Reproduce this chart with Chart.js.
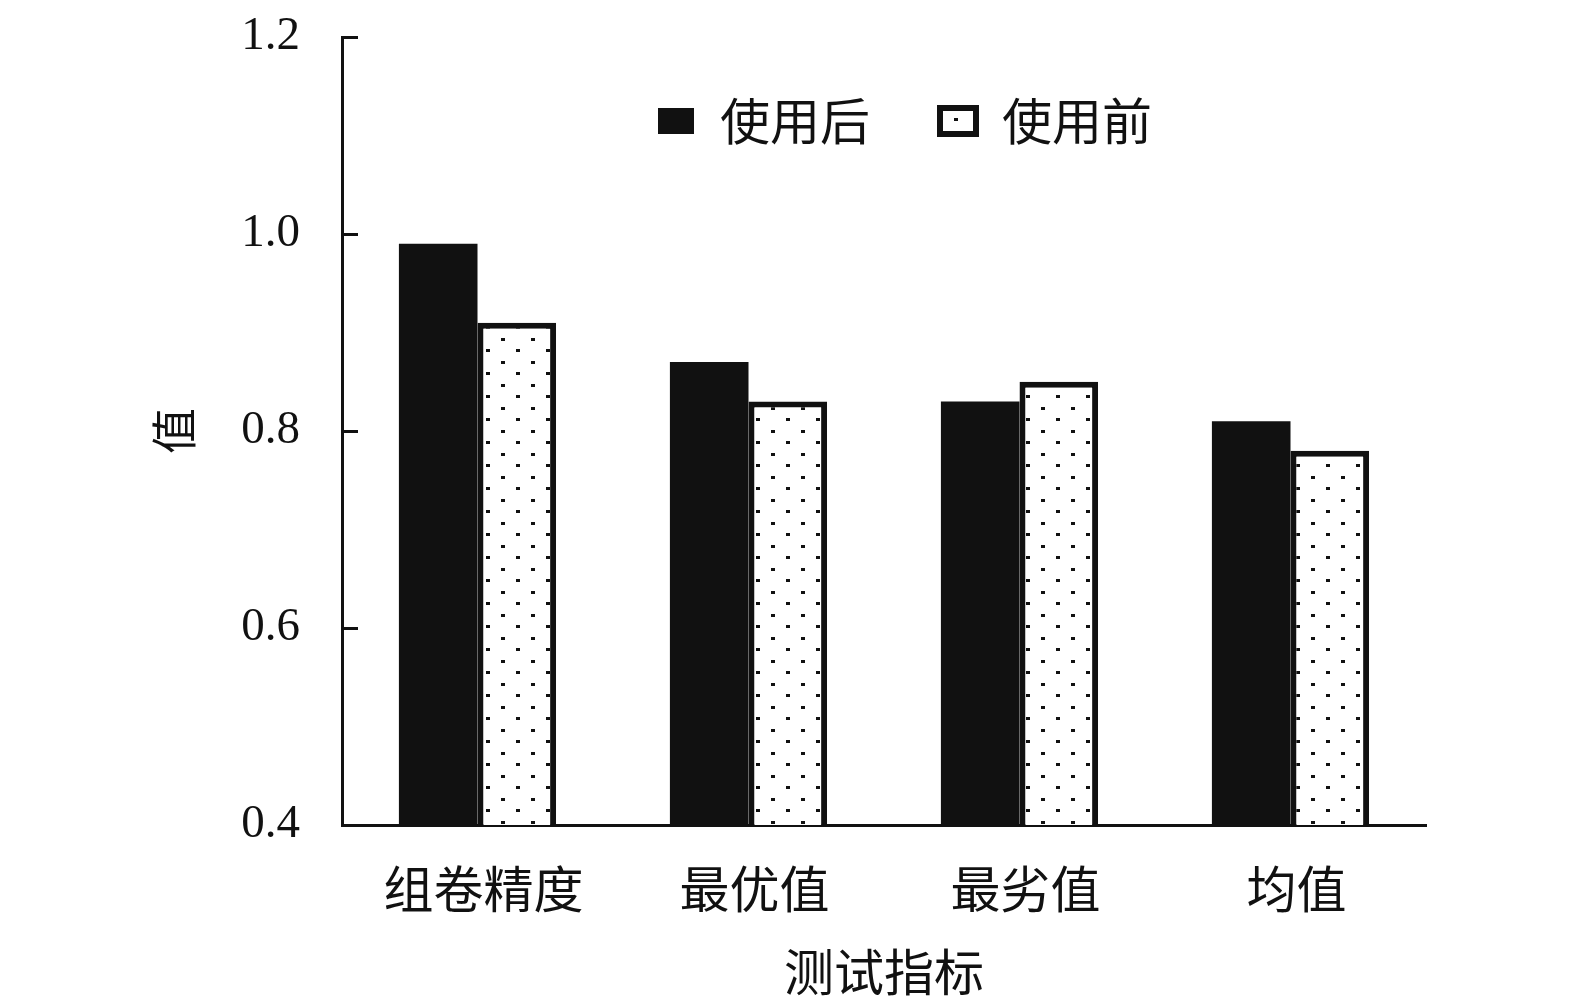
<!DOCTYPE html>
<html>
<head>
<meta charset="utf-8">
<script src="https://cdn.jsdelivr.net/npm/chart.js@4.4.1/dist/chart.umd.min.js"></script>
<style>
  body { margin: 0; background: #fff; }
  #wrap { width: 1575px; height: 1006px; }
</style>
</head>
<body>
<div id="wrap"><canvas id="myChart" width="1575" height="1006"></canvas></div>
<script>
// data
const categories = ['组卷精度', '最优值', '最劣值', '均值'];
const seriesNames = ['使用后', '使用前'];
const afterValues = [0.99, 0.87, 0.83, 0.81];
const beforeValues = [0.91, 0.83, 0.85, 0.78];
const yMin = 0.4;
const yMax = 1.2;
const yStep = 0.2;
const xTitle = '测试指标';
const yTitle = '值';

const INK = '#111';
const SERIF = '"Liberation Serif", "Times New Roman", serif';
const CJK = '"Noto Sans CJK SC", sans-serif';

// dotted fill for the "before" bars
function makeDots()
{
  const c = document.createElement('canvas');
  c.width = 30;
  c.height = 23;
  const g = c.getContext('2d');
  g.fillStyle = '#fff';
  g.fillRect(0, 0, 30, 23);
  g.fillStyle = INK;
  g.fillRect(6, 4, 4, 3);
  g.fillRect(21, 16, 4, 3);
  return g.createPattern(c, 'repeat');
}
const dots = makeDots();

// small tick marks pointing into the plot on the y axis
const innerTicks = {
  id: 'innerTicks',
  afterDatasetsDraw(chart) {
    const y = chart.scales.y;
    const left = chart.chartArea.left;
    const g = chart.ctx;
    g.save();
    g.strokeStyle = INK;
    g.lineWidth = 3;
    y.ticks.forEach(function (t) {
      const py = Math.round(y.getPixelForValue(t.value)) + 0.5;
      g.beginPath();
      g.moveTo(left, py);
      g.lineTo(left + 16, py);
      g.stroke();
    });
    g.restore();
  }
};

// legend row inside the plot, near the top
const insideLegend = {
  id: 'insideLegend',
  afterDraw(chart) {
    const g = chart.ctx;
    const area = chart.chartArea;
    const sets = chart.data.datasets;
    const boxW = 36, boxH = 26, textGap = 26, itemGap = 70;
    const cy = area.top + 84;
    g.save();
    g.font = '50px ' + CJK;
    g.textBaseline = 'middle';
    g.textAlign = 'left';
    let total = 0;
    sets.forEach(function (ds, i) {
      total += boxW + textGap + g.measureText(ds.label).width;
      if (i > 0) total += itemGap;
    });
    let x = (area.left + area.right) / 2 + 21 - total / 2;
    sets.forEach(function (ds) {
      if (ds.borderWidth) {
        g.fillStyle = '#fff';
        g.fillRect(x, cy - boxH / 2, boxW, boxH);
        g.strokeStyle = ds.borderColor;
        g.lineWidth = ds.borderWidth;
        g.strokeRect(x, cy - boxH / 2, boxW, boxH);
        g.fillStyle = INK;
        g.fillRect(x + boxW / 2 - 4, cy - 3, 4, 3);
      } else {
        g.fillStyle = ds.backgroundColor;
        g.fillRect(x, cy - boxH / 2, boxW, boxH);
      }
      x += boxW + textGap;
      g.fillStyle = INK;
      g.fillText(ds.label, x, cy);
      x += g.measureText(ds.label).width + itemGap;
    });
    g.restore();
  }
};

const ctx = document.getElementById('myChart');
const myChart = new Chart(ctx, {
  type: 'bar',
  data: {
    labels: categories,
    datasets: [{
      label: seriesNames[0],
      data: afterValues,
      backgroundColor: INK,
      borderWidth: 0
    }, {
      label: seriesNames[1],
      data: beforeValues,
      backgroundColor: dots,
      borderColor: INK,
      borderWidth: 6,
      borderSkipped: 'bottom'
    }]
  },
  options: {
    responsive: false,
    devicePixelRatio: 1,
    animation: false,
    layout: {
      padding: { left: 146, right: 149, top: 37, bottom: 0 }
    },
    datasets: {
      bar: { categoryPercentage: 0.58, barPercentage: 1.0 }
    },
    plugins: {
      tooltip: { enabled: false },
      legend: { display: false }
    },
    scales: {
      x: {
        grid: { display: true, drawOnChartArea: false, drawTicks: false },
        border: { display: true, color: INK, width: 3 },
        ticks: { color: INK, font: { family: CJK, size: 50 }, padding: 34, labelOffset: 6 },
        title: {
          display: true,
          text: xTitle,
          color: INK,
          font: { family: CJK, size: 50 },
          padding: { top: 0, bottom: 4 }
        },
        afterFit(scale) { scale.height = 181; }
      },
      y: {
        min: yMin,
        max: yMax,
        grid: { display: true, drawOnChartArea: false, drawTicks: true, tickLength: 42, tickColor: 'rgba(0,0,0,0)' },
        border: { display: true, color: INK, width: 3 },
        ticks: {
          stepSize: yStep,
          padding: 0,
          color: INK,
          font: { family: SERIF, size: 47 },
          callback: function (v) { return Number(v).toFixed(1); }
        },
        title: {
          display: true,
          text: yTitle,
          color: INK,
          font: { family: CJK, size: 46 },
          padding: 0
        },
        afterFit(scale) { scale.width = 196; }
      }
    }
  },
  plugins: [innerTicks, insideLegend]
});
</script>
</body>
</html>
